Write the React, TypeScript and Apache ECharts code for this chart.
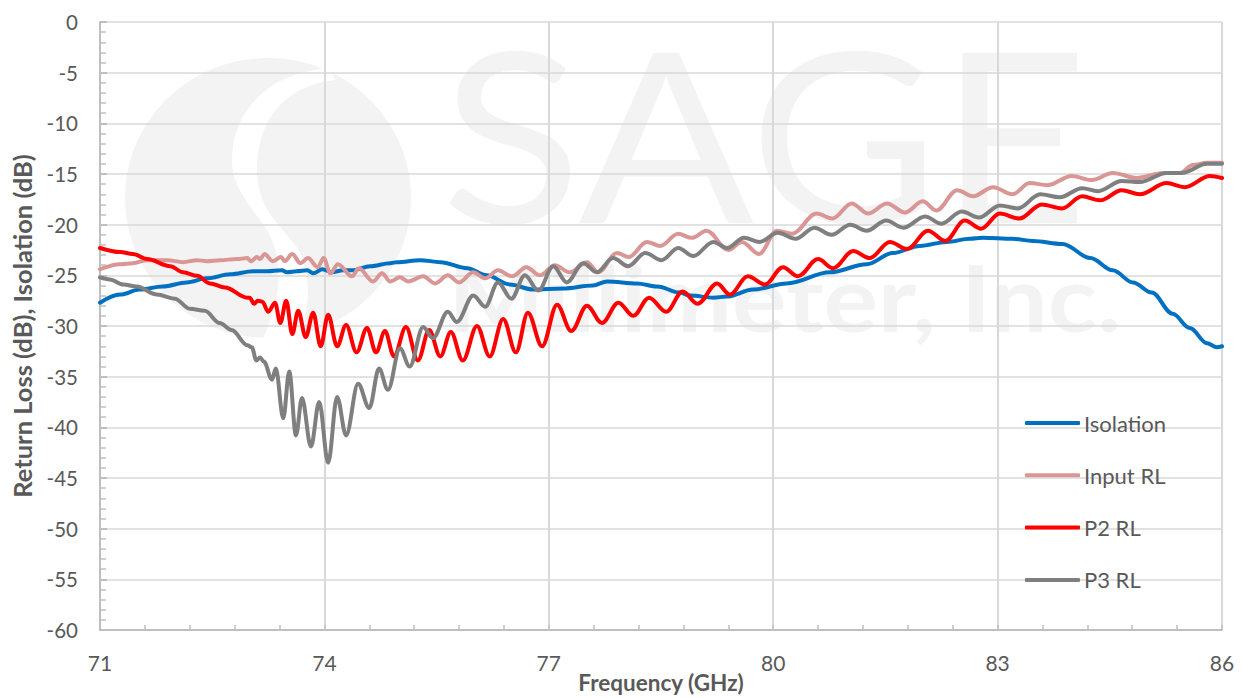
import React, { useEffect, useRef } from "react";
import * as echarts from "echarts";

const xTicks = [71, 74, 77, 80, 83, 86];
const xAllTicks = [71, 71.6, 72.2, 72.8, 73.4, 74, 74.6, 75.2, 75.8, 76.4, 77, 77.6, 78.2, 78.8, 79.4, 80, 80.6, 81.2, 81.8, 82.4, 83, 83.6, 84.2, 84.8, 85.4, 86];

const isolationF = [71, 71.27, 71.53, 71.84, 72.16, 72.43, 72.74, 73.05, 73.23, 73.43, 73.5, 73.63, 73.77, 73.85, 73.97, 74.1, 74.25, 74.39, 74.61, 74.88, 74.97, 75.28, 75.55, 75.91, 76.17, 76.48, 76.79, 77.19, 77.59, 77.78, 78.18, 78.45, 78.75, 78.89, 79.2, 79.38, 79.73, 80.18, 80.76, 81.25, 81.6, 81.96, 82.32, 82.63, 82.8, 83.2, 83.47, 83.87, 84.24, 84.54, 84.81, 85.06, 85.34, 85.57, 85.8, 85.93, 86];
const isolationDb = [-27.7, -26.9, -26.4, -26.1, -25.7, -25.3, -24.9, -24.6, -24.6, -24.5, -24.7, -24.6, -24.5, -24.8, -24.4, -24.7, -24.5, -24.5, -24.1, -23.8, -23.7, -23.5, -23.7, -24.3, -25, -25.9, -26.4, -26.3, -26, -25.6, -25.8, -26.1, -26.7, -27, -27.2, -27.1, -26.4, -25.8, -24.7, -23.9, -22.8, -22.1, -21.7, -21.4, -21.3, -21.4, -21.6, -21.9, -23.3, -24.5, -25.7, -26.7, -28.8, -30.2, -31.7, -32.1, -32];

const inputF = [71, 71.27, 71.44, 71.63, 71.9, 72.11, 72.3, 72.43, 72.6, 72.83, 72.97, 73.02, 73.1, 73.14, 73.2, 73.31, 73.42, 73.47, 73.57, 73.68, 73.78, 73.91, 73.99, 74.08, 74.18, 74.37, 74.46, 74.65, 74.77, 74.88, 75.01, 75.12, 75.32, 75.48, 75.65, 75.8, 75.99, 76.15, 76.32, 76.51, 76.7, 76.88, 77.08, 77.28, 77.51, 77.66, 77.91, 78.07, 78.31, 78.49, 78.73, 78.91, 79.11, 79.4, 79.58, 79.81, 80.05, 80.25, 80.58, 80.79, 81.05, 81.27, 81.52, 81.76, 82, 82.18, 82.46, 82.67, 82.94, 83.2, 83.43, 83.67, 83.99, 84.26, 84.54, 84.86, 85.21, 85.44, 85.61, 85.8, 86];
const inputDb = [-24.4, -23.9, -23.8, -23.5, -23.5, -23.7, -23.5, -23.6, -23.5, -23.4, -23.3, -23.6, -23.2, -23.4, -22.9, -23.6, -23.2, -23.6, -22.9, -23.8, -23.3, -24.2, -23.3, -24.8, -23.9, -25.1, -24.3, -25.6, -24.8, -25.6, -25.2, -25.6, -25.1, -25.8, -25, -25.7, -24.7, -25.3, -24.5, -25.1, -24.2, -25, -24, -24.7, -23.7, -24.7, -22.8, -23.2, -21.7, -22.1, -20.9, -21.3, -20.6, -22.5, -21.7, -22.9, -20.6, -20.9, -18.9, -19.4, -17.9, -18.9, -17.9, -18.8, -17.7, -18.6, -16.6, -17.2, -16.3, -17, -15.9, -16.1, -15.2, -15.6, -14.9, -15.4, -14.9, -14.9, -14.1, -13.9, -13.9];

const p2F = [71, 71.27, 71.44, 71.63, 71.94, 72.11, 72.3, 72.47, 72.67, 72.97, 73, 73.06, 73.11, 73.17, 73.25, 73.34, 73.41, 73.49, 73.57, 73.65, 73.75, 73.85, 73.95, 74.05, 74.17, 74.29, 74.43, 74.57, 74.69, 74.81, 74.93, 75.09, 75.25, 75.4, 75.55, 75.69, 75.85, 76.04, 76.21, 76.39, 76.56, 76.72, 76.91, 77.11, 77.3, 77.51, 77.71, 77.93, 78.13, 78.34, 78.57, 78.79, 78.99, 79.25, 79.42, 79.66, 79.89, 80.13, 80.33, 80.6, 80.8, 81.07, 81.29, 81.56, 81.79, 82.07, 82.3, 82.56, 82.78, 83.03, 83.29, 83.59, 83.86, 84.13, 84.37, 84.66, 84.9, 85.26, 85.5, 85.84, 86];
const p2Db = [-22.3, -22.7, -22.9, -23.4, -24.1, -24.7, -25.05, -25.8, -26.2, -27.2, -27.2, -27.8, -27.5, -27.6, -28.6, -27.7, -29.7, -27.5, -30.8, -28.5, -31.1, -28.7, -32, -28.9, -32, -29.9, -32.6, -30.2, -32.6, -30.5, -33, -30.1, -33.4, -30.4, -33, -30.6, -33.4, -30, -33, -29.3, -32.6, -28.7, -32, -27.9, -30.5, -28, -29.7, -27.7, -29, -27.2, -28.6, -26.6, -27.8, -25.8, -26.9, -25.1, -25.9, -24.2, -25.1, -23.4, -24.3, -22.6, -23.3, -21.7, -22.4, -20.6, -21.6, -19.6, -20.4, -18.9, -19.4, -18, -18.4, -17.2, -17.6, -16.6, -17, -15.9, -16.3, -15.2, -15.4];

const p3F = [71, 71.13, 71.31, 71.49, 71.76, 72, 72.2, 72.4, 72.6, 72.76, 72.97, 73.03, 73.09, 73.14, 73.19, 73.3, 73.35, 73.45, 73.53, 73.62, 73.7, 73.82, 73.93, 74.05, 74.17, 74.29, 74.45, 74.6, 74.73, 74.85, 75.01, 75.14, 75.32, 75.45, 75.65, 75.77, 75.99, 76.15, 76.32, 76.5, 76.68, 76.86, 77.06, 77.24, 77.46, 77.64, 77.86, 78.06, 78.29, 78.51, 78.73, 78.93, 79.2, 79.38, 79.61, 79.82, 80.06, 80.3, 80.55, 80.78, 81.03, 81.25, 81.51, 81.74, 82.03, 82.25, 82.52, 82.75, 83.03, 83.27, 83.57, 83.83, 84.13, 84.34, 84.66, 84.9, 85.26, 85.46, 85.8, 86];
const p3Db = [-25.2, -25.4, -25.9, -26.1, -26.9, -27.3, -28.3, -28.5, -29.7, -30.4, -31.9, -32.1, -33.4, -33.1, -33.5, -35.3, -34.2, -39.1, -34.5, -40.8, -37.1, -41.9, -37.5, -43.5, -37, -40.8, -35.7, -38.1, -34.2, -36.3, -32.2, -34, -30.1, -31.2, -28.6, -29.6, -27, -28.1, -25.7, -27.3, -25, -26.5, -24.1, -25.7, -23.8, -24.7, -23.3, -24.1, -22.8, -23.5, -22.3, -23.1, -21.7, -22.3, -21.3, -21.7, -20.8, -21.4, -20.3, -21, -20, -20.6, -19.6, -20.3, -19.2, -19.9, -18.7, -19.3, -18.1, -18.4, -17, -17.3, -16.4, -16.7, -15.7, -15.8, -14.9, -14.9, -14, -14];

const zip = (f: number[], v: number[]) => f.map((x, i) => [x, v[i]]);

const FONT = "Lato";
const TEXT = "#595959";
const GRID = "#d9d9d9";
const AXIS = "#bfbfbf";
const MARK = "#f3f3f3";

const swirl =
  "M330 68 C270 72 232 110 232 160 C232 195 262 215 272 240 C282 265 282 300 262 340 L300 335 C312 300 310 265 295 245 C275 220 257 205 257 170 C257 120 285 85 335 80 Z";
echarts.graphic.registerShape("logo", echarts.graphic.extendPath(swirl, {}));

export default function App() {
  const ref = useRef<HTMLDivElement>(null);
  useEffect(() => {
    const chart = echarts.init(ref.current!, null, { renderer: "svg" });
    const line = (name: string, color: string, f: number[], v: number[]) => ({
      name,
      type: "line",
      data: zip(f, v),
      showSymbol: false,
      symbol: "none",
      smooth: 0.35,
      smoothMonotone: "x",
      color,
      lineStyle: { color, width: 4, cap: "round", join: "round" },
      xAxisIndex: 0,
    });
    chart.setOption({
      animation: false,
      backgroundColor: "#ffffff",
      textStyle: { fontFamily: FONT },
      grid: { left: 100, top: 22, width: 1122, height: 608, containLabel: false, outerBoundsMode: "none" },
      graphic: {
        elements: [
          { type: "ellipse", z: -10, silent: true, shape: { cx: 268, cy: 198, rx: 143, ry: 140 }, style: { fill: MARK } },
          { type: "logo", z: -9, silent: true, x: 0, y: 0, style: { fill: "#ffffff" } },
          { type: "text", z: -9, silent: true, x: 441, y: 12, scaleX: 1.09, style: { text: "SAGE", fill: MARK, font: "400 238px Lato" } },
          { type: "text", z: -9, silent: true, x: 448, y: 250, scaleX: 1.11, style: { text: "Millimeter, Inc.", fill: MARK, font: "700 92px Lato" } },
        ],
      },
      legend: {
        orient: "vertical",
        left: 1020,
        top: 407,
        itemWidth: 55,
        itemHeight: 4,
        itemGap: 30.3,
        icon: "roundRect",
        textStyle: { color: TEXT, fontFamily: FONT, fontSize: 22, padding: [0, 0, 0, -1] },
        data: ["Isolation", "Input RL", "P2 RL", "P3 RL"],
      },
      xAxis: [
        {
          type: "value",
          min: 71,
          max: 86,
          name: "Frequency (GHz)",
          nameLocation: "middle",
          nameGap: 41,
          nameMoveOverlap: false,
          nameTextStyle: { color: TEXT, fontFamily: FONT, fontSize: 22.5, fontWeight: "bold" },
          axisLine: { show: true, onZero: false, lineStyle: { color: AXIS, width: 2 } },
          axisTick: { show: true, inside: true, length: 5, customValues: xAllTicks, lineStyle: { color: AXIS, width: 1.5 } },
          axisLabel: { color: TEXT, fontFamily: FONT, fontSize: 21, margin: 22, customValues: xTicks, hideOverlap: false, showMinLabel: true, showMaxLabel: true },
          splitLine: { show: false },
        },
        {
          type: "value",
          min: 71,
          max: 86,
          axisLine: { show: false },
          axisLabel: { show: false },
          axisTick: { show: false, customValues: xTicks },
          splitLine: { show: true, lineStyle: { color: GRID, width: 2 }, showMinLine: false },
        },
      ],
      yAxis: {
        type: "value",
        min: -60,
        max: 0,
        interval: 5,
        name: "Return Loss (dB), Isolation (dB)",
        nameLocation: "middle",
        nameGap: 65,
        nameTextStyle: { color: TEXT, fontFamily: FONT, fontSize: 25.5, fontWeight: "bold" },
        axisLine: { show: true, lineStyle: { color: AXIS, width: 2 } },
        axisTick: { show: true, inside: true, length: 7, lineStyle: { color: AXIS, width: 2 } },
        minorTick: { show: true, splitNumber: 5, length: 6, lineStyle: { color: AXIS, width: 1.5 } },
        axisLabel: { color: TEXT, fontFamily: FONT, fontSize: 20.5, margin: 22 },
        splitLine: { show: true, lineStyle: { color: GRID, width: 1.5 } },
      },
      series: [
        line("Isolation", "#0070c0", isolationF, isolationDb),
        line("Input RL", "#d99694", inputF, inputDb),
        line("P2 RL", "#ff0000", p2F, p2Db),
        line("P3 RL", "#7f7f7f", p3F, p3Db),
      ],
    });
    return () => chart.dispose();
  }, []);
  return (
    <div
      ref={ref}
      style={{ position: "fixed", left: 0, top: 0, width: 1242, height: 698 }}
    />
  );
}
